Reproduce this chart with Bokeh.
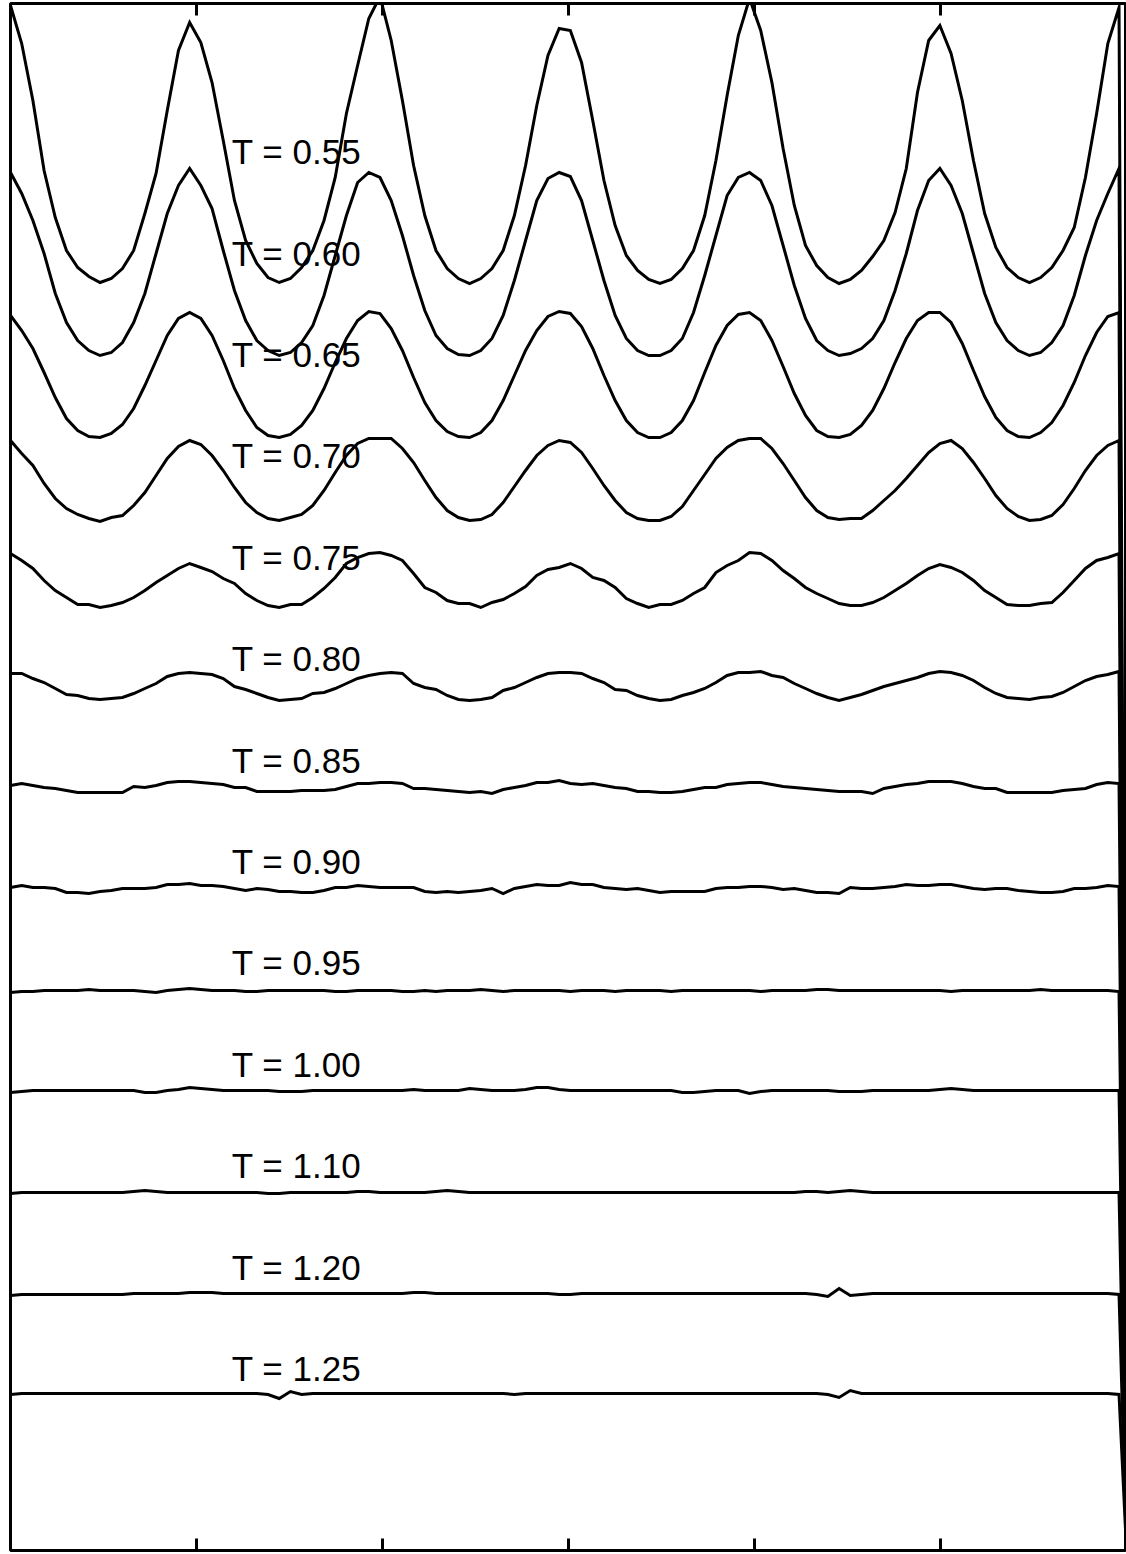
from bokeh.plotting import figure
from bokeh.models import Range1d, LinearAxis, FixedTicker, ColumnDataSource
from bokeh.embed import file_html
from bokeh.resources import INLINE
from bokeh.core.properties import value

# ---------------- data ----------------
temps = ["0.55", "0.60", "0.65", "0.70", "0.75", "0.80", "0.85",
         "0.90", "0.95", "1.00", "1.10", "1.20", "1.25"]
stack_index = [12, 11, 10, 9, 8, 7, 6, 5, 4, 3, 2, 1, 0]
stack_step = 1.01
label_step = 1.014
label_base = 1.82
label_z = 1.19

bin_width = 0.0602
n_bins = 100
wall_z = 6.0
wall_value = 0.0

rho_055 = [3.33,2.95,2.38,1.68,1.21,0.88,0.71,0.62,0.56,0.60, 0.70,0.88,1.25,1.65,2.28,2.88,3.16,2.96,2.56,1.98,
           1.38,0.98,0.75,0.61,0.56,0.60,0.71,0.88,1.18,1.61, 2.25,2.73,3.20,3.42,2.98,2.38,1.73,1.23,0.88,0.70,
           0.60,0.55,0.60,0.70,0.88,1.23,1.73,2.33,2.83,3.10, 3.08,2.76,2.18,1.58,1.13,0.83,0.68,0.59,0.55,0.59,
           0.70,0.88,1.23,1.78,2.43,3.03,3.40,3.08,2.56,1.90, 1.33,0.93,0.73,0.61,0.55,0.59,0.68,0.82,0.98,1.26,
           1.70,2.46,2.98,3.13,2.85,2.38,1.78,1.25,0.91,0.71, 0.61,0.56,0.61,0.71,0.88,1.11,1.61,2.25,2.95,3.31]
rho_060 = [2.67,2.46,2.19,1.86,1.46,1.17,0.99,0.89,0.84,0.87, 0.97,1.17,1.46,1.86,2.26,2.54,2.71,2.54,2.31,1.89,
           1.49,1.19,0.99,0.89,0.84,0.87,0.97,1.14,1.44,1.84, 2.24,2.57,2.67,2.62,2.39,2.04,1.64,1.29,1.04,0.91,
           0.85,0.84,0.89,1.01,1.24,1.59,1.99,2.39,2.61,2.67, 2.63,2.39,1.99,1.59,1.24,1.01,0.89,0.84,0.84,0.89,
           1.01,1.27,1.64,2.04,2.44,2.62,2.67,2.59,2.34,1.94, 1.54,1.21,0.99,0.89,0.84,0.86,0.91,1.01,1.19,1.49,
           1.86,2.29,2.59,2.71,2.54,2.26,1.86,1.46,1.17,0.99, 0.89,0.84,0.87,0.97,1.14,1.44,1.84,2.19,2.46,2.71]
rho_065 = [2.25,2.10,1.92,1.68,1.43,1.22,1.10,1.04,1.03,1.07, 1.16,1.32,1.55,1.80,2.05,2.22,2.28,2.22,2.05,1.80,
           1.52,1.30,1.13,1.05,1.03,1.06,1.15,1.30,1.52,1.78, 2.02,2.20,2.29,2.27,2.12,1.90,1.63,1.38,1.20,1.09,
           1.04,1.03,1.08,1.20,1.40,1.65,1.90,2.10,2.24,2.29, 2.27,2.14,1.92,1.65,1.40,1.20,1.08,1.03,1.03,1.08,
           1.20,1.40,1.68,1.95,2.15,2.26,2.28,2.20,2.00,1.74, 1.47,1.25,1.10,1.04,1.03,1.06,1.15,1.30,1.52,1.78,
           2.02,2.20,2.28,2.28,2.18,1.97,1.70,1.44,1.23,1.10, 1.04,1.03,1.08,1.18,1.35,1.58,1.85,2.08,2.24,2.28]
rho_070 = [2.01,1.88,1.76,1.58,1.43,1.33,1.27,1.23,1.20,1.24, 1.26,1.36,1.49,1.66,1.83,1.95,2.01,1.97,1.86,1.71,
           1.54,1.39,1.29,1.23,1.21,1.24,1.27,1.36,1.51,1.69, 1.86,1.98,2.03,2.03,2.03,1.93,1.79,1.61,1.44,1.31,
           1.24,1.21,1.22,1.27,1.39,1.55,1.71,1.86,1.96,2.01, 1.99,1.89,1.73,1.56,1.41,1.29,1.23,1.21,1.21,1.25,
           1.35,1.51,1.67,1.83,1.94,2.01,2.03,2.03,1.93,1.78, 1.61,1.44,1.31,1.24,1.22,1.23,1.23,1.31,1.41,1.51,
           1.63,1.76,1.89,1.98,2.01,1.93,1.79,1.63,1.46,1.33, 1.25,1.21,1.22,1.26,1.37,1.53,1.71,1.86,1.96,2.01]
rho_075 = [1.89,1.82,1.74,1.62,1.52,1.45,1.38,1.38,1.35,1.37, 1.40,1.45,1.52,1.60,1.67,1.74,1.79,1.75,1.71,1.64,
           1.59,1.49,1.42,1.37,1.35,1.38,1.38,1.45,1.54,1.65, 1.79,1.85,1.89,1.90,1.87,1.82,1.69,1.55,1.50,1.42,
           1.39,1.39,1.35,1.40,1.43,1.49,1.56,1.67,1.73,1.75, 1.79,1.74,1.65,1.62,1.55,1.44,1.39,1.35,1.38,1.38,
           1.42,1.49,1.55,1.70,1.77,1.82,1.90,1.89,1.82,1.72, 1.64,1.55,1.49,1.44,1.39,1.37,1.37,1.40,1.45,1.52,
           1.59,1.67,1.74,1.78,1.75,1.70,1.62,1.52,1.45,1.38, 1.37,1.37,1.39,1.40,1.50,1.62,1.74,1.82,1.85,1.89]
rho_080 = [1.70,1.70,1.65,1.61,1.55,1.49,1.48,1.45,1.44,1.45, 1.46,1.50,1.55,1.60,1.67,1.70,1.71,1.70,1.69,1.65,
           1.57,1.54,1.50,1.46,1.43,1.44,1.45,1.50,1.51,1.55, 1.60,1.65,1.68,1.70,1.71,1.70,1.60,1.56,1.54,1.48,
           1.44,1.43,1.44,1.46,1.53,1.56,1.61,1.66,1.70,1.71, 1.71,1.70,1.65,1.61,1.54,1.53,1.48,1.45,1.43,1.44,
           1.48,1.51,1.55,1.61,1.68,1.71,1.71,1.72,1.68,1.66, 1.60,1.55,1.50,1.46,1.43,1.46,1.49,1.53,1.57,1.60,
           1.63,1.66,1.70,1.72,1.71,1.68,1.63,1.56,1.50,1.46, 1.45,1.44,1.46,1.47,1.51,1.57,1.63,1.67,1.69,1.72]
rho_085 = [1.59,1.61,1.59,1.57,1.56,1.54,1.52,1.52,1.52,1.52, 1.52,1.58,1.57,1.59,1.62,1.63,1.63,1.62,1.61,1.60,
           1.57,1.57,1.53,1.53,1.53,1.53,1.54,1.54,1.54,1.55, 1.58,1.61,1.61,1.62,1.62,1.61,1.56,1.56,1.55,1.54,
           1.53,1.52,1.53,1.51,1.55,1.57,1.59,1.62,1.62,1.64, 1.61,1.60,1.61,1.59,1.57,1.56,1.53,1.53,1.52,1.52,
           1.53,1.55,1.57,1.57,1.60,1.61,1.62,1.62,1.60,1.58, 1.57,1.56,1.55,1.54,1.53,1.53,1.53,1.51,1.56,1.58,
           1.60,1.61,1.63,1.63,1.63,1.61,1.58,1.56,1.56,1.52, 1.52,1.52,1.52,1.52,1.54,1.55,1.56,1.60,1.62,1.61]
rho_090 = [1.58,1.60,1.58,1.58,1.57,1.53,1.53,1.52,1.54,1.55, 1.57,1.57,1.57,1.58,1.61,1.61,1.62,1.60,1.60,1.59,
           1.57,1.55,1.57,1.56,1.54,1.54,1.53,1.53,1.55,1.58, 1.58,1.60,1.59,1.58,1.58,1.58,1.58,1.54,1.53,1.54,
           1.53,1.54,1.55,1.57,1.52,1.57,1.59,1.61,1.60,1.60, 1.63,1.61,1.61,1.58,1.57,1.56,1.57,1.55,1.53,1.54,
           1.54,1.54,1.54,1.57,1.58,1.58,1.59,1.59,1.58,1.56, 1.57,1.55,1.53,1.53,1.52,1.58,1.57,1.57,1.58,1.59,
           1.61,1.60,1.60,1.61,1.61,1.59,1.57,1.56,1.57,1.57, 1.55,1.54,1.53,1.53,1.54,1.57,1.57,1.58,1.60,1.59]
rho_095 = [1.54,1.55,1.55,1.56,1.56,1.56,1.56,1.57,1.56,1.56, 1.56,1.56,1.55,1.54,1.56,1.57,1.58,1.57,1.56,1.56,
           1.56,1.55,1.55,1.56,1.56,1.56,1.56,1.56,1.56,1.55, 1.55,1.56,1.56,1.56,1.56,1.55,1.55,1.56,1.55,1.56,
           1.56,1.56,1.57,1.56,1.55,1.56,1.56,1.56,1.56,1.56, 1.55,1.56,1.56,1.56,1.55,1.56,1.56,1.56,1.56,1.55,
           1.56,1.56,1.56,1.56,1.56,1.56,1.56,1.55,1.56,1.56, 1.56,1.56,1.57,1.57,1.56,1.56,1.56,1.56,1.56,1.56,
           1.56,1.56,1.56,1.56,1.55,1.56,1.56,1.56,1.56,1.56, 1.56,1.56,1.57,1.56,1.56,1.56,1.56,1.56,1.56,1.55]
rho_100 = [1.55,1.56,1.57,1.57,1.57,1.57,1.57,1.57,1.57,1.57, 1.57,1.57,1.55,1.55,1.57,1.58,1.60,1.59,1.58,1.57,
           1.57,1.57,1.57,1.57,1.56,1.56,1.56,1.57,1.57,1.57, 1.57,1.57,1.57,1.57,1.57,1.57,1.58,1.57,1.57,1.57,
           1.57,1.59,1.58,1.57,1.57,1.57,1.58,1.60,1.60,1.58, 1.57,1.57,1.57,1.57,1.57,1.57,1.57,1.57,1.57,1.57,
           1.55,1.55,1.56,1.57,1.57,1.57,1.54,1.56,1.57,1.57, 1.57,1.57,1.57,1.57,1.56,1.56,1.56,1.57,1.57,1.57,
           1.57,1.57,1.57,1.58,1.59,1.58,1.57,1.57,1.57,1.57, 1.57,1.57,1.57,1.57,1.57,1.57,1.57,1.57,1.57,1.57]
rho_110 = [1.55,1.56,1.56,1.56,1.56,1.56,1.56,1.56,1.56,1.56, 1.56,1.57,1.58,1.57,1.56,1.56,1.56,1.56,1.56,1.56,
           1.56,1.56,1.56,1.55,1.55,1.56,1.56,1.56,1.56,1.56, 1.56,1.57,1.57,1.56,1.56,1.56,1.56,1.56,1.57,1.58,
           1.57,1.56,1.56,1.56,1.56,1.56,1.56,1.56,1.56,1.56, 1.56,1.56,1.56,1.56,1.56,1.56,1.56,1.56,1.56,1.56,
           1.56,1.56,1.56,1.56,1.56,1.56,1.56,1.56,1.56,1.56, 1.56,1.57,1.57,1.56,1.57,1.58,1.57,1.56,1.56,1.56,
           1.56,1.56,1.56,1.56,1.56,1.56,1.56,1.56,1.56,1.56, 1.56,1.56,1.56,1.56,1.56,1.56,1.56,1.56,1.56,1.56]
rho_120 = [1.54,1.55,1.55,1.55,1.55,1.55,1.55,1.55,1.55,1.55, 1.55,1.56,1.56,1.56,1.56,1.56,1.57,1.57,1.57,1.56,
           1.56,1.56,1.56,1.56,1.56,1.56,1.56,1.56,1.56,1.56, 1.56,1.56,1.56,1.56,1.56,1.56,1.57,1.57,1.56,1.56,
           1.56,1.56,1.56,1.56,1.56,1.56,1.56,1.56,1.56,1.55, 1.55,1.56,1.56,1.56,1.56,1.56,1.56,1.56,1.56,1.56,
           1.56,1.56,1.56,1.56,1.56,1.56,1.56,1.56,1.56,1.56, 1.56,1.56,1.55,1.53,1.61,1.54,1.55,1.56,1.56,1.56,
           1.56,1.56,1.56,1.56,1.56,1.56,1.56,1.56,1.56,1.56, 1.56,1.56,1.56,1.56,1.56,1.56,1.56,1.56,1.56,1.55]
rho_125 = [1.56,1.57,1.57,1.57,1.57,1.57,1.57,1.57,1.57,1.57, 1.57,1.57,1.57,1.57,1.57,1.57,1.57,1.57,1.57,1.57,
           1.57,1.57,1.57,1.56,1.52,1.59,1.56,1.57,1.57,1.57, 1.57,1.57,1.57,1.57,1.57,1.57,1.57,1.57,1.57,1.57,
           1.57,1.57,1.57,1.57,1.57,1.56,1.57,1.57,1.57,1.57, 1.57,1.57,1.57,1.57,1.57,1.57,1.57,1.57,1.57,1.57,
           1.57,1.57,1.57,1.57,1.57,1.57,1.57,1.57,1.57,1.57, 1.57,1.57,1.57,1.56,1.53,1.60,1.57,1.57,1.57,1.57,
           1.57,1.57,1.57,1.57,1.57,1.57,1.57,1.57,1.57,1.57, 1.57,1.57,1.57,1.57,1.57,1.57,1.57,1.57,1.57,1.56]

profiles = [rho_055, rho_060, rho_065, rho_070, rho_075, rho_080, rho_085,
            rho_090, rho_095, rho_100, rho_110, rho_120, rho_125]

# ---------------- figure ----------------
p = figure(width=1126, height=1554, output_backend="svg", toolbar_location=None,
           x_range=Range1d(0, 6.0), y_range=Range1d(0, 15.47),
           x_axis_location=None, y_axis_location=None,
           min_border_left=10, min_border_right=0, min_border_top=3, min_border_bottom=4)
p.grid.visible = False
p.outline_line_color = "black"
p.outline_line_width = 3
p.background_fill_color = "white"
p.border_fill_color = "white"

for loc in ("below", "above"):
    ax = LinearAxis(ticker=FixedTicker(ticks=[1, 2, 3, 4, 5]),
                    major_tick_in=12, major_tick_out=0,
                    minor_tick_in=0, minor_tick_out=0,
                    major_tick_line_width=3, major_tick_line_color="black",
                    axis_line_color=None,
                    major_label_text_color=None, major_label_text_alpha=0,
                    major_label_text_font_size="1px", major_label_standoff=0)
    p.add_layout(ax, loc)

z = [i * bin_width for i in range(n_bins)] + [wall_z]
for k, rho in zip(stack_index, profiles):
    off = k * stack_step
    y = [r + off for r in rho] + [wall_value]
    src = ColumnDataSource(dict(z=z, y=y))
    p.line("z", "y", source=src, line_color="black", line_width=3, line_join="miter")

label_src = ColumnDataSource(dict(
    x=[label_z] * len(temps),
    y=[label_base + k * label_step for k in stack_index],
    t=["T = " + t for t in temps]))
p.text("x", "y", text="t", source=label_src, text_font=value("Liberation Sans"),
       text_font_size="35px", text_color="black", text_align="left",
       text_baseline="middle")

open("out.html", "w").write(file_html(p, INLINE))
